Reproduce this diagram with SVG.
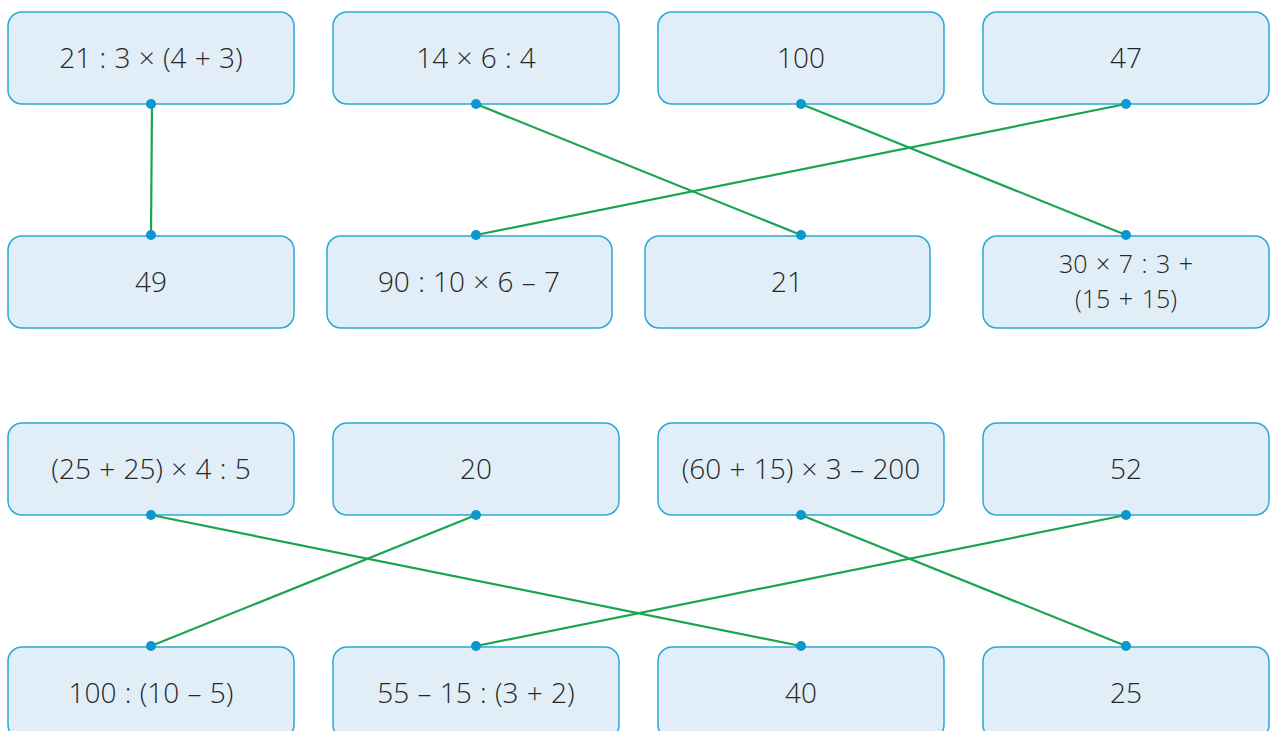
<svg xmlns="http://www.w3.org/2000/svg" width="1278" height="731" viewBox="0 0 1278 731">
<style>
.box{fill:#e1eef8;stroke:#2aa6d8;stroke-width:1.5}
.t{font-family:"Open Sans","Liberation Sans",sans-serif;font-size:28px;font-weight:350;fill:#262626;text-anchor:middle;word-spacing:1px}
.t2{font-size:25px;word-spacing:2px}
.ln{stroke:#18a550;stroke-width:2.2;fill:none}
.dot{fill:#0b97cf}
</style>
<rect width="1278" height="731" fill="#fff"/>
<g id="n1"><rect class="box" x="8" y="12" width="286" height="92" rx="14"/><text class="t" x="151" y="68">21 : 3 × (4 + 3)</text></g>
<g id="n2"><rect class="box" x="333" y="12" width="286" height="92" rx="14"/><text class="t" x="476" y="68">14 × 6 : 4</text></g>
<g id="n3"><rect class="box" x="658" y="12" width="286" height="92" rx="14"/><text class="t" x="801" y="68">100</text></g>
<g id="n4"><rect class="box" x="983" y="12" width="286" height="92" rx="14"/><text class="t" x="1126" y="68">47</text></g>
<g id="n5"><rect class="box" x="8" y="236" width="286" height="92" rx="14"/><text class="t" x="151" y="292">49</text></g>
<g id="n6"><rect class="box" x="327" y="236" width="285" height="92" rx="14"/><text class="t" x="469" y="292">90 : 10 × 6 – 7</text></g>
<g id="n7"><rect class="box" x="645" y="236" width="285" height="92" rx="14"/><text class="t" x="787" y="292">21</text></g>
<g id="n8"><rect class="box" x="983" y="236" width="286" height="92" rx="14"/><text class="t t2" x="1126" y="273">30 × 7 : 3 +<tspan x="1126" y="308">(15 + 15)</tspan></text></g>
<g id="n9"><rect class="box" x="8" y="423" width="286" height="92" rx="14"/><text class="t" x="151" y="479">(25 + 25) × 4 : 5</text></g>
<g id="n10"><rect class="box" x="333" y="423" width="286" height="92" rx="14"/><text class="t" x="476" y="479">20</text></g>
<g id="n11"><rect class="box" x="658" y="423" width="286" height="92" rx="14"/><text class="t" x="801" y="479">(60 + 15) × 3 – 200</text></g>
<g id="n12"><rect class="box" x="983" y="423" width="286" height="92" rx="14"/><text class="t" x="1126" y="479">52</text></g>
<g id="n13"><rect class="box" x="8" y="647" width="286" height="92" rx="14"/><text class="t" x="151" y="703">100 : (10 – 5)</text></g>
<g id="n14"><rect class="box" x="333" y="647" width="286" height="92" rx="14"/><text class="t" x="476" y="703">55 – 15 : (3 + 2)</text></g>
<g id="n15"><rect class="box" x="658" y="647" width="286" height="92" rx="14"/><text class="t" x="801" y="703">40</text></g>
<g id="n16"><rect class="box" x="983" y="647" width="286" height="92" rx="14"/><text class="t" x="1126" y="703">25</text></g>
<g id="connectors">
<line class="ln" x1="152" y1="104" x2="151" y2="235"/>
<line class="ln" x1="476" y1="104" x2="801" y2="235"/>
<line class="ln" x1="801" y1="104" x2="1126" y2="235"/>
<line class="ln" x1="1126" y1="104" x2="476" y2="235"/>
<line class="ln" x1="151" y1="515" x2="801" y2="646"/>
<line class="ln" x1="476" y1="515" x2="151" y2="646"/>
<line class="ln" x1="801" y1="515" x2="1126" y2="646"/>
<line class="ln" x1="1126" y1="515" x2="476" y2="646"/>
<circle class="dot" cx="151" cy="104" r="5"/><circle class="dot" cx="476" cy="104" r="5"/><circle class="dot" cx="801" cy="104" r="5"/><circle class="dot" cx="1126" cy="104" r="5"/>
<circle class="dot" cx="151" cy="235" r="5"/><circle class="dot" cx="476" cy="235" r="5"/><circle class="dot" cx="801" cy="235" r="5"/><circle class="dot" cx="1126" cy="235" r="5"/>
<circle class="dot" cx="151" cy="515" r="5"/><circle class="dot" cx="476" cy="515" r="5"/><circle class="dot" cx="801" cy="515" r="5"/><circle class="dot" cx="1126" cy="515" r="5"/>
<circle class="dot" cx="151" cy="646" r="5"/><circle class="dot" cx="476" cy="646" r="5"/><circle class="dot" cx="801" cy="646" r="5"/><circle class="dot" cx="1126" cy="646" r="5"/>
</g>
</svg>
